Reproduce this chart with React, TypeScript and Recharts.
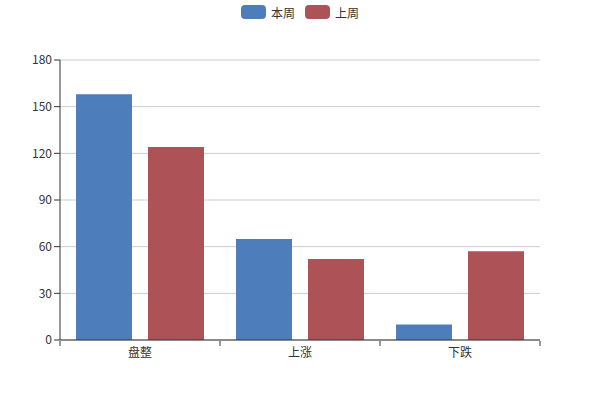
import { BarChart, Bar, XAxis, YAxis, CartesianGrid, Legend } from 'recharts';

const categories = ['盘整', '上涨', '下跌'];
const thisWeek = [158, 65, 10];
const lastWeek = [124, 52, 57];
const yTicks = [0, 30, 60, 90, 120, 150, 180];
const boundaryTicks = [0, 0.5, 1, 1.5, 2, 2.5, 3];

const data = categories.map((name, i) => ({
  name,
  pos: i + 0.5,
  本周: thisWeek[i],
  上周: lastWeek[i],
}));

const series = [
  { key: '本周', color: '#4d7ebb' },
  { key: '上周', color: '#ad5257' },
];

const font = '"Microsoft YaHei", "Noto Sans CJK SC", sans-serif';

const LegendContent = () => (
  <div style={{ display: 'flex', justifyContent: 'center', fontFamily: font, fontSize: 12, color: '#333', height: 16 }}>
    {series.map((s) => (
      <div key={s.key} style={{ display: 'flex', alignItems: 'center', margin: '0 5px' }}>
        <div style={{ width: 25, height: 14, borderRadius: 4, background: s.color, marginRight: 5 }} />
        <span>{s.key}</span>
      </div>
    ))}
  </div>
);

// tick lines on category boundaries, labels in the middle
const BoundaryTick = (props: any) => {
  const { x, y, payload } = props;
  const v = payload.value;
  if (Number.isInteger(v)) {
    return <line x1={x} x2={x} y1={y - 7} y2={y - 2} stroke="#333" />;
  }
  const label = categories[Math.floor(v)];
  return (
    <text x={x} y={y} dy="0.71em" textAnchor="middle" fill="#333" fontSize={12} fontFamily={font}>
      {label}
    </text>
  );
};

const App = () => (
  <div style={{ position: 'absolute', left: 0, top: 0 }}>
    <BarChart
      width={600}
      height={400}
      data={data}
      margin={{ top: 44, right: 60, left: 0, bottom: 30 }}
      barCategoryGap={16}
      barGap={16}
    >
      <CartesianGrid vertical={false} stroke="#ccc" />
      <XAxis xAxisId="cat" dataKey="name" hide height={0} />
      <XAxis
        xAxisId="edge"
        dataKey="pos"
        type="number"
        domain={[0, 3]}
        ticks={boundaryTicks}
        interval={0}
        tickLine={false}
        tick={<BoundaryTick />}
        axisLine={{ stroke: '#333' }}
        height={30}
      />
      <YAxis
        domain={[0, 180]}
        ticks={yTicks}
        interval={0}
        tick={{ fill: '#333', fontSize: 12, fontFamily: font }}
        tickLine={{ stroke: '#333' }}
        axisLine={{ stroke: '#333' }}
        width={60}
      />
      <Legend
        verticalAlign="top"
        height={16}
        content={<LegendContent />}
        wrapperStyle={{ top: 4, left: 0, width: 600 }}
      />
      {series.map((s) => (
        <Bar key={s.key} xAxisId="cat" dataKey={s.key} fill={s.color} isAnimationActive={false} />
      ))}
    </BarChart>
  </div>
);

export default App;
